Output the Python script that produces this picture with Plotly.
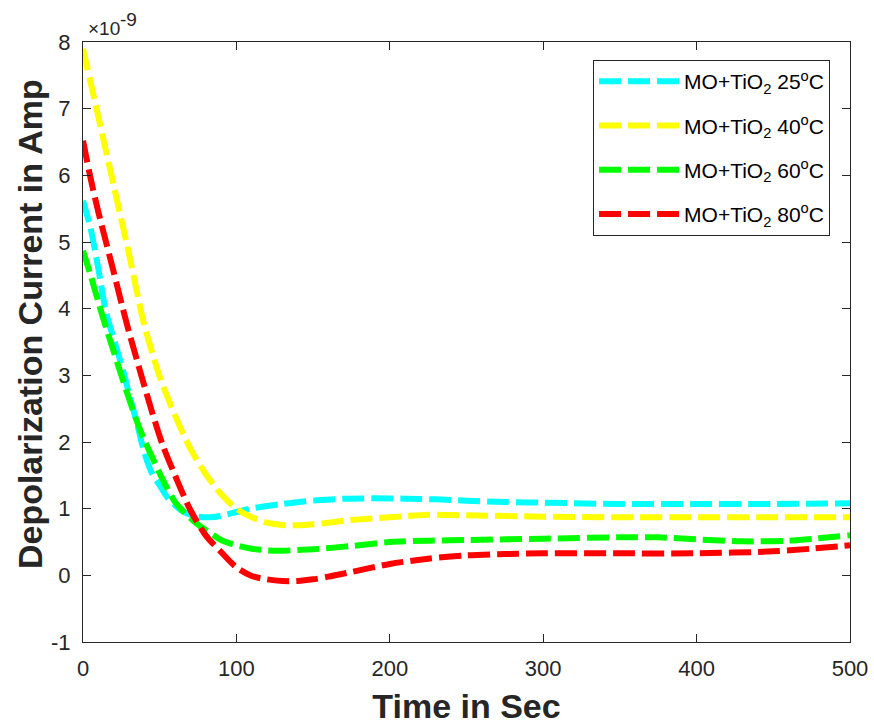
import plotly.graph_objects as go

# Values in units of 1e-9 A
t_25 = [0, 5, 10, 15, 20, 27, 30, 35, 40, 45, 50, 55, 60, 65, 70, 75, 83, 90, 100, 109, 120, 130, 141, 155, 172, 190, 210, 230, 250, 275, 300, 350, 400, 450, 500]
i_25 = [5.62, 5.2, 4.6, 3.95, 3.55, 3.0, 2.72, 2.3, 1.84, 1.53, 1.35, 1.17, 1.05, 0.96, 0.91, 0.88, 0.87, 0.89, 0.95, 1.0, 1.04, 1.07, 1.1, 1.13, 1.15, 1.155, 1.15, 1.14, 1.12, 1.1, 1.09, 1.07, 1.07, 1.07, 1.08]

t_40 = [0, 10, 20, 30, 37, 40, 50, 60, 70, 80, 90, 100, 110, 120, 130, 140, 150, 160, 175, 200, 225, 250, 300, 350, 400, 450, 500]
i_40 = [7.9, 6.88, 5.85, 4.82, 4.05, 3.75, 2.98, 2.4, 1.9, 1.52, 1.22, 1.0, 0.87, 0.79, 0.755, 0.75, 0.765, 0.79, 0.83, 0.87, 0.91, 0.9, 0.88, 0.87, 0.87, 0.87, 0.87]

t_60 = [0, 5, 10, 15, 20, 25, 30, 35, 40, 45, 50, 55, 60, 65, 70, 75, 80, 90, 100, 110, 120, 130, 140, 150, 175, 200, 225, 250, 300, 350, 375, 400, 430, 460, 500]
i_60 = [4.87, 4.5, 4.1, 3.72, 3.36, 3.0, 2.65, 2.32, 2.03, 1.78, 1.53, 1.3, 1.1, 0.97, 0.86, 0.76, 0.68, 0.53, 0.45, 0.4, 0.375, 0.37, 0.38, 0.39, 0.44, 0.5, 0.52, 0.53, 0.55, 0.57, 0.57, 0.54, 0.51, 0.52, 0.6]

t_80 = [0, 5, 10, 15, 20, 26, 30, 38, 45, 52, 60, 70, 80, 90, 100, 110, 120, 130, 140, 150, 160, 175, 200, 225, 250, 275, 300, 350, 400, 450, 475, 500]
i_80 = [6.52, 5.95, 5.45, 5.0, 4.55, 4.0, 3.65, 3.0, 2.45, 1.95, 1.5, 0.98, 0.6, 0.35, 0.12, -0.01, -0.06, -0.085, -0.085, -0.06, -0.02, 0.05, 0.17, 0.25, 0.3, 0.32, 0.33, 0.33, 0.33, 0.36, 0.4, 0.45]

names = ["MO+TiO<sub>2</sub> 25<sup>o</sup>C", "MO+TiO<sub>2</sub> 40<sup>o</sup>C",
         "MO+TiO<sub>2</sub> 60<sup>o</sup>C", "MO+TiO<sub>2</sub> 80<sup>o</sup>C"]
colors = ["#00FFFF", "#FFFF00", "#00FF00", "#FF0000"]
series = [(t_25, i_25), (t_40, i_40), (t_60, i_60), (t_80, i_80)]

y_ticks = [-1, 0, 1, 2, 3, 4, 5, 6, 7, 8]
y_labels = ["-1", "0", "1", "2", "3", "4", "5", "6", "7", "8"]
x_ticks = [0, 100, 200, 300, 400, 500]

FONT = "Liberation Sans, Arial, Helvetica, sans-serif"
AX = "#262626"

fig = go.Figure()
for k, ((tx, iy), nm, c) in enumerate(zip(series, names, colors)):
    fig.add_trace(go.Scatter(
        x=tx, y=iy, mode="lines", name=nm, legendgroup=str(k),
        line=dict(color=c, width=6, dash="22px,7px", shape="spline", smoothing=0.8),
    ))

fig.update_layout(
    width=874, height=725,
    margin=dict(l=83, r=24, t=42, b=83, pad=0),
    paper_bgcolor="white", plot_bgcolor="white",
    font=dict(family=FONT, color=AX, size=22),
    showlegend=True,
    legend=dict(
        x=0.665, y=0.97, xanchor="left", yanchor="top",
        bgcolor="white", bordercolor=AX, borderwidth=1,
        font=dict(family=FONT, size=21, color="#000000"),
        tracegroupgap=14, itemwidth=80,
    ),
    xaxis=dict(
        range=[0, 500], tickvals=x_ticks, automargin=False,
        showline=True, mirror="ticks", linecolor=AX, linewidth=1,
        ticks="inside", ticklen=8, tickcolor=AX, showgrid=False, zeroline=False,
        ticklabelstandoff=7,
        tickfont=dict(family=FONT, size=22, color=AX),
        title=dict(text="<b>Time in Sec</b>", font=dict(family=FONT, size=34, color=AX), standoff=13),
    ),
    yaxis=dict(
        range=[-1, 8], tickvals=y_ticks, ticktext=y_labels, automargin=False,
        showline=True, mirror="ticks", linecolor=AX, linewidth=1,
        ticks="inside", ticklen=8, tickcolor=AX, showgrid=False, zeroline=False,
        ticklabelstandoff=7,
        tickfont=dict(family=FONT, size=22, color=AX),
    ),
    annotations=[
        dict(text="×10", xref="paper", yref="paper", x=0.004, y=1.0225,
             xanchor="left", yanchor="middle", showarrow=False,
             font=dict(family=FONT, size=19, color=AX)),
        dict(text="-9", xref="paper", yref="paper", x=0.045, y=1.038,
             xanchor="left", yanchor="middle", showarrow=False,
             font=dict(family=FONT, size=19, color=AX)),
        dict(text="<b>Depolarization Current in Amp</b>", xref="paper", yref="paper",
             x=-0.069, y=0.53, xanchor="center", yanchor="middle", textangle=-90,
             showarrow=False, font=dict(family=FONT, size=34, color=AX)),
    ],
)

fig.write_html("out.html")
